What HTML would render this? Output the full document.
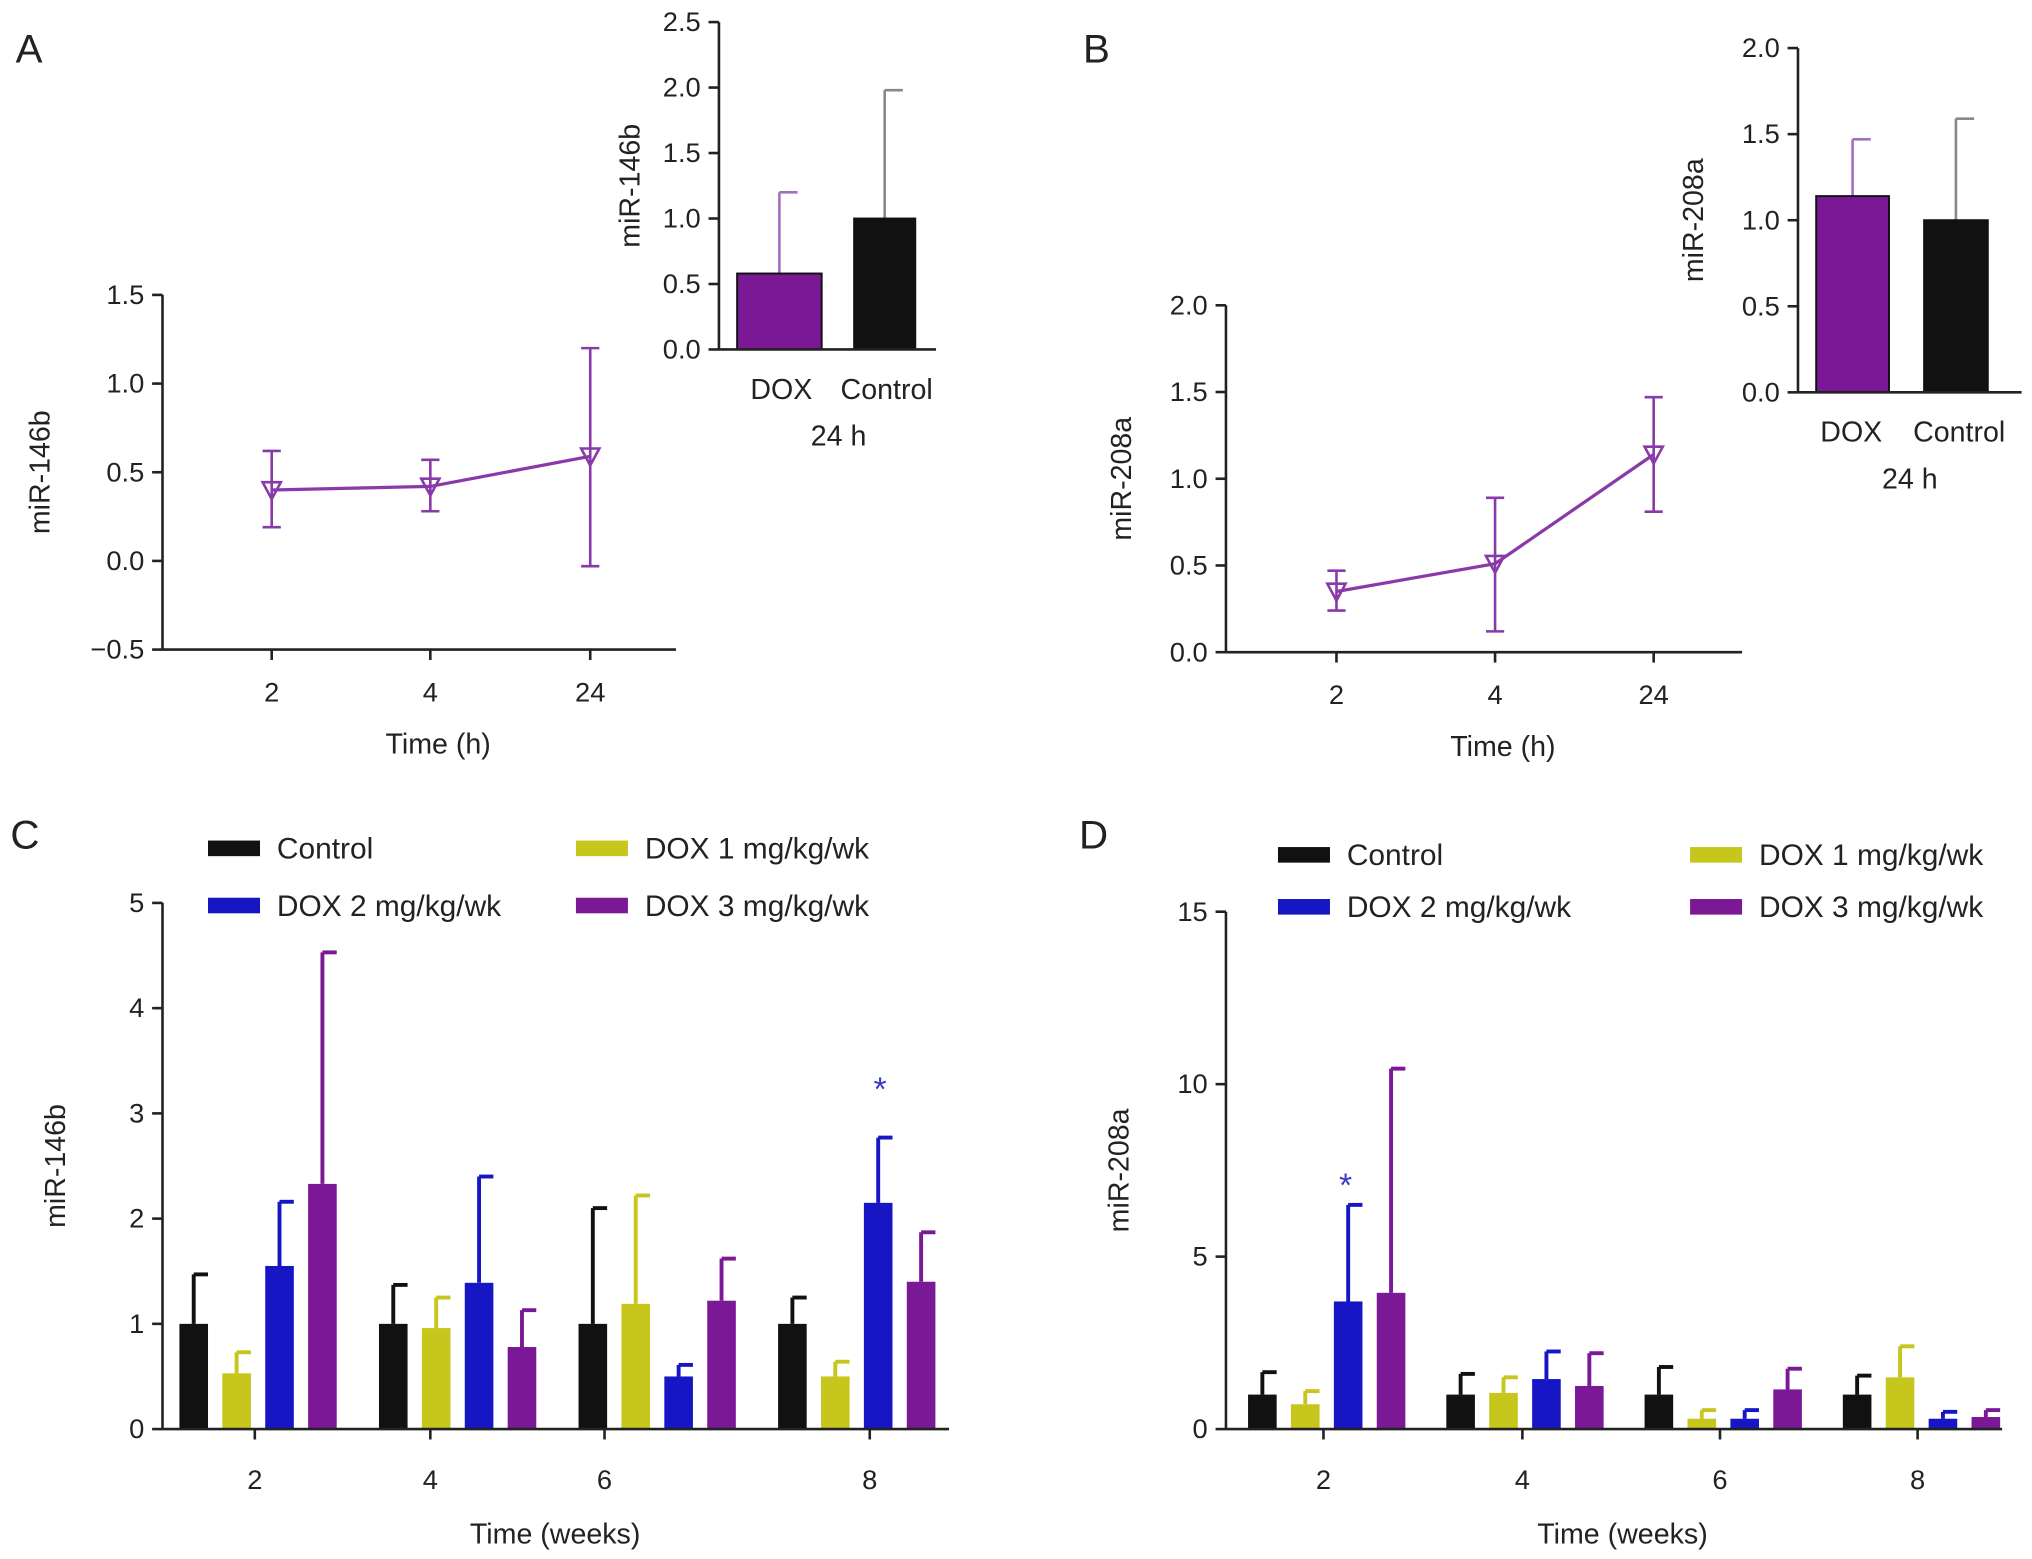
<!DOCTYPE html>
<html><head><meta charset="utf-8"><style>
html,body{margin:0;padding:0;background:#fff}
svg{display:block}
text{font-family:"Liberation Sans",Arial,sans-serif;fill:#222}
</style></head><body>
<svg id="fig" width="2032" height="1559" viewBox="0 0 1563 1200" preserveAspectRatio="none" xmlns="http://www.w3.org/2000/svg"></svg>
<script>
// Panel A line
const timeCatsAB = ['2','4','24'];
const aMean = [0.40, 0.42, 0.59];
const aUpper = [0.62, 0.57, 1.20];
const aLower = [0.19, 0.28, -0.03];
const aTicks = [-0.5, 0.0, 0.5, 1.0, 1.5];
// Panel A inset
const insetCats = ['DOX','Control'];
const aInsetVals = [0.58, 1.0];
const aInsetErr = [1.20, 1.98];
const aInsetTicks = [0.0, 0.5, 1.0, 1.5, 2.0, 2.5];
// Panel B line
const bMean = [0.35, 0.51, 1.14];
const bUpper = [0.47, 0.89, 1.47];
const bLower = [0.24, 0.12, 0.81];
const bTicks = [0.0, 0.5, 1.0, 1.5, 2.0];
// Panel B inset
const bInsetVals = [1.14, 1.0];
const bInsetErr = [1.47, 1.59];
const bInsetTicks = [0.0, 0.5, 1.0, 1.5, 2.0];
// Panels C, D
const weekCats = ['2','4','6','8'];
const seriesNames = ['Control','DOX 1 mg/kg/wk','DOX 2 mg/kg/wk','DOX 3 mg/kg/wk'];
const cControl = [1.0, 1.0, 1.0, 1.0];
const cControlErr = [1.47, 1.37, 2.10, 1.25];
const cDox1 = [0.53, 0.96, 1.19, 0.50];
const cDox1Err = [0.73, 1.25, 2.22, 0.64];
const cDox2 = [1.55, 1.39, 0.50, 2.15];
const cDox2Err = [2.16, 2.40, 0.61, 2.77];
const cDox3 = [2.33, 0.78, 1.22, 1.40];
const cDox3Err = [4.53, 1.13, 1.62, 1.87];
const cTicks = [0, 1, 2, 3, 4, 5];
const dControl = [1.0, 1.0, 1.0, 1.0];
const dControlErr = [1.65, 1.6, 1.8, 1.55];
const dDox1 = [0.72, 1.05, 0.3, 1.5];
const dDox1Err = [1.1, 1.5, 0.55, 2.4];
const dDox2 = [3.7, 1.45, 0.3, 0.3];
const dDox2Err = [6.5, 2.25, 0.55, 0.5];
const dDox3 = [3.95, 1.25, 1.15, 0.35];
const dDox3Err = [10.45, 2.2, 1.75, 0.55];
const dTicks = [0, 5, 10, 15];

const svg = document.getElementById('fig');
const NS = 'http://www.w3.org/2000/svg';
function el(tag, attrs, parent){const e=document.createElementNS(NS,tag);for(const k in attrs)e.setAttribute(k,attrs[k]);(parent||svg).appendChild(e);return e;}
function txt(x,y,s,size,anchor,parent,rot){const t=el('text',{x:x,y:y,'font-size':size,'text-anchor':anchor||'middle'},parent);if(rot)t.setAttribute('transform','rotate(-90 '+x+' '+y+')');t.textContent=s;return t;}
const COL = ['#111111','#c6c61c','#1616c4','#7a1896'];
const LINEPURPLE = '#8a3aa8';

function yAxis(g, x, y0v, y0, pxPerUnit, ticks, fmt){
  const ys = v => y0 - (v - y0v)*pxPerUnit;
  const ax = el('line',{x1:x,x2:x,y1:ys(ticks[0]),y2:ys(ticks[ticks.length-1]),stroke:'#222','stroke-width':2},g);
  
  
  ticks.forEach(t=>{
    el('line',{x1:x-8,x2:x,y1:ys(t),y2:ys(t),stroke:'#222','stroke-width':2},g);
    const lab = txt(x-14, ys(t)+7, fmt(t), 21, 'end', g);
    
    
  });
  return ys;
}

function linePanel(name, axX, axRight, y0v, y0, ppu, ticks, xs, mean, up, lo, ylabel, ylabX, xtitleX){
  const g = el('g',{});
  const ys = yAxis(g, axX, y0v, y0, ppu, ticks, t=>t<0?'\u2212'+Math.abs(t).toFixed(1):t.toFixed(1));
  const yb = ys(ticks[0]);
  el('line',{x1:axX,x2:axRight,y1:yb,y2:yb,stroke:'#222','stroke-width':2,},g);
  xs.forEach((x,i)=>{
    el('line',{x1:x,x2:x,y1:yb,y2:yb+8,stroke:'#222','stroke-width':2},g);
    const l = txt(x, yb+40, timeCatsAB[i], 21, 'middle', g);
    
    
  });
  const pts = xs.map((x,i)=>x+','+ys(mean[i])).join(' ');
  const pl = el('polyline',{points:pts,fill:'none',stroke:LINEPURPLE,'stroke-width':2.5},g);
  
  
  xs.forEach((x,i)=>{
    el('line',{x1:x,x2:x,y1:ys(up[i]),y2:ys(lo[i]),stroke:LINEPURPLE,'stroke-width':2},g);
    el('line',{x1:x-7,x2:x+7,y1:ys(up[i]),y2:ys(up[i]),stroke:LINEPURPLE,'stroke-width':2},g);
    el('line',{x1:x-7,x2:x+7,y1:ys(lo[i]),y2:ys(lo[i]),stroke:LINEPURPLE,'stroke-width':2},g);
    const y=ys(mean[i]);
    const m = el('polygon',{points:(x-7)+','+(y-6)+' '+(x+7)+','+(y-6)+' '+x+','+(y+7),fill:'none',stroke:LINEPURPLE,'stroke-width':2},g);
    
    
  });
  const yl = txt(ylabX, (ys(ticks[0])+ys(ticks[ticks.length-1]))/2, ylabel, 22, 'middle', g, true);
  
  
  const xt = txt(xtitleX, yb+80, 'Time (h)', 22, 'middle', g);
  
  
}

function insetPanel(name, axX, axRight, y0, ppu, ticks, bars, vals, errs, ylabel, ylabX, catXs, hX){
  const g = el('g',{});
  const ys = yAxis(g, axX, 0, y0, ppu, ticks, t=>t.toFixed(1));
  const cols=[COL[3],COL[0]];
  bars.forEach((b,i)=>{
    const top = ys(vals[i]);
    el('line',{x1:(b[0]+b[1])/2,x2:(b[0]+b[1])/2,y1:top,y2:ys(errs[i]),stroke:i?'#888':'#a070c0','stroke-width':2},g);
    el('line',{x1:(b[0]+b[1])/2,x2:(b[0]+b[1])/2+14,y1:ys(errs[i]),y2:ys(errs[i]),stroke:i?'#888':'#a070c0','stroke-width':2},g);
    const r = el('rect',{x:b[0],y:top,width:b[1]-b[0],height:y0-top,fill:cols[i],stroke:'#111','stroke-width':1.5},g);
    
    
    const l = txt(catXs[i], y0+38, insetCats[i], 22, 'middle', g);
    
    
  });
  el('line',{x1:axX,x2:axRight,y1:y0,y2:y0,stroke:'#222','stroke-width':2,},g);
  const h = txt(hX, y0+74, '24 h', 22, 'middle', g);
  
  
  const yl = txt(ylabX, (ys(ticks[0])+ys(ticks[ticks.length-1]))/2, ylabel, 22, 'middle', g, true);
  
  
}

function barPanel(name, axX, axRight, y0, ppu, ticks, groupStart, groupStep, tickXs, series, errs, ylabel, ylabX, xtitleX, legend, star){
  const g = el('g',{});
  const ys = yAxis(g, axX, 0, y0, ppu, ticks, t=>String(t));
  series.forEach((s,si)=>{
    s.forEach((v,gi)=>{
      const x = groupStart + gi*groupStep + si*33;
      const top = ys(v);
      const et = ys(errs[si][gi]);
      el('line',{x1:x+11,x2:x+11,y1:top,y2:et,stroke:COL[si],'stroke-width':3},g);
      el('line',{x1:x+11,x2:x+22,y1:et,y2:et,stroke:COL[si],'stroke-width':3},g);
      const r = el('rect',{x:x,y:top,width:22,height:y0-top,fill:COL[si]},g);
      
      
    });
  });
  el('line',{x1:axX,x2:axRight,y1:y0,y2:y0,stroke:'#222','stroke-width':2,},g);
  tickXs.forEach((x,i)=>{
    el('line',{x1:x,x2:x,y1:y0,y2:y0+8,stroke:'#222','stroke-width':2},g);
    const l = txt(x, y0+46, weekCats[i], 21, 'middle', g);
    
    
  });
  const yl = txt(ylabX, (ys(ticks[0])+ys(ticks[ticks.length-1]))/2, ylabel, 22, 'middle', g, true);
  
  
  const xt = txt(xtitleX, y0+88, 'Time (weeks)', 22, 'middle', g);
  
  
  const lg = el('g',{},g);
  const pos=[[legend.x1,legend.y1],[legend.x1,legend.y2],[legend.x2,legend.y1],[legend.x2,legend.y2]];
  [0,2,1,3].forEach((si,k)=>{
    const p = pos[k];
    const sw = el('rect',{x:p[0],y:p[1]-6,width:40,height:12,fill:COL[si]},lg);
    
    
    const t = txt(p[0]+53, p[1]+8, seriesNames[si], 23, 'start', lg);
    
    
  });
  const st = txt(star.x, ys(star.v)+16, '*', 26, 'middle', g);
  st.style.fill='#3a3ac8';
  
  
}

linePanel('panel-a-line',125,520,-0.5,500,136.5,aTicks,[209,331,454],aMean,aUpper,aLower,'miR-146b',38,337);
insetPanel('panel-a-inset',553,720,269,100.8,aInsetTicks,[[567,632],[657,704]],aInsetVals,aInsetErr,'miR-146b',492,[601,682],645);
linePanel('panel-b-line',943,1340,0,502,133.5,bTicks,[1028,1150,1272],bMean,bUpper,bLower,'miR-208a',870,1156);
insetPanel('panel-b-inset',1383,1555,302,132.5,bInsetTicks,[[1397,1453],[1480,1529]],bInsetVals,bInsetErr,'miR-208a',1310,[1424,1507],1469);
barPanel('panel-c-bars',125,730,1100,81,cTicks,138,153.5,[196,331,465,669],[cControl,cDox1,cDox2,cDox3],[cControlErr,cDox1Err,cDox2Err,cDox3Err],'miR-146b',50,427,{x1:160,x2:443,y1:653,y2:697},{x:677,v:2.77+0.55});
barPanel('panel-d-bars',943,1540,1100,26.55,dTicks,960,152.5,[1018,1171,1323,1475],[dControl,dDox1,dDox2,dDox3],[dControlErr,dDox1Err,dDox2Err,dDox3Err],'miR-208a',868,1248,{x1:983,x2:1300,y1:658,y2:698},{x:1035,v:6.5+0.85});

[['A',12,40],['B',833,40],['C',8,645],['D',830,645]].forEach(p=>{
  const t = txt(p[1],p[2]+8,p[0],31,'start');
  
  
});
</script>
</body></html>
